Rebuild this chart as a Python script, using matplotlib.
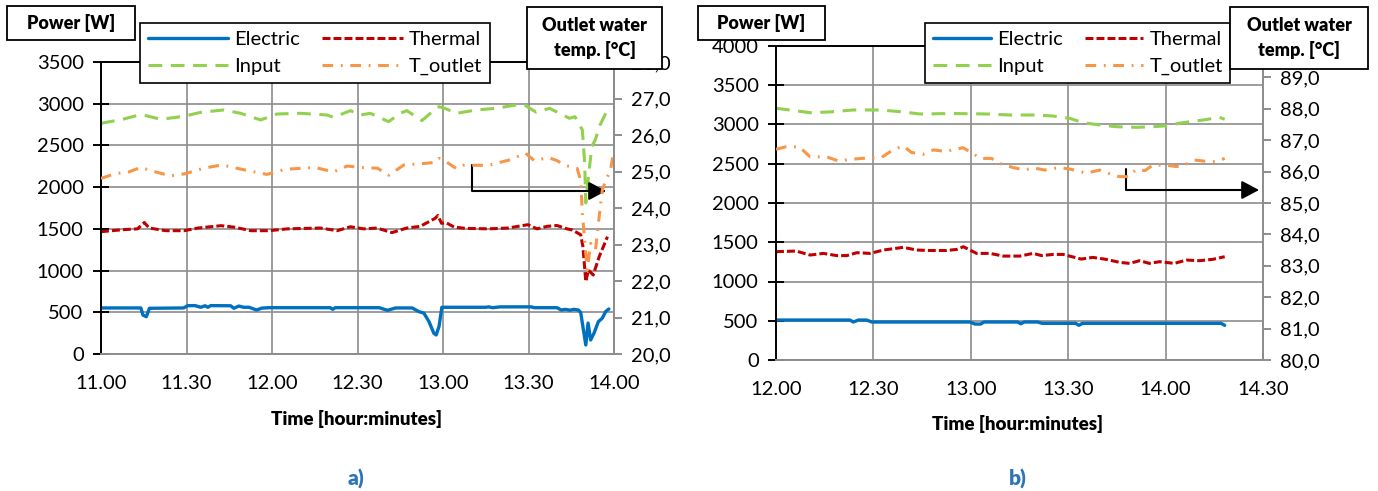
import matplotlib
matplotlib.use("Agg")
import matplotlib.pyplot as plt
from matplotlib.patches import Rectangle

plt.rcParams['font.family'] = ['Lato', 'DejaVu Sans']

# ---- panel a) : 11.00 - 14.00 (minutes after 11.00) ----
el_a_t = [0, 14, 14.7, 15.9, 17, 29, 30.4, 33, 35, 36.5, 37.5, 38.5, 45.5, 46.6, 48.4, 50, 52, 54.6, 56.4, 59,
          80.4, 81.3, 82.2, 97.6, 100.5, 103.4, 109.2, 111.6, 113.3, 115.1, 116.8, 117.6, 118.6, 119.6,
          135, 136, 137.5, 140, 151, 152, 160, 161.5, 163, 164.5, 166, 167.5, 168.3, 170.1, 170.9, 171.8,
          173, 174.5, 175.9, 177.1, 178.2]
el_a = [552, 552, 467, 447, 548, 552, 579, 580, 560, 578, 560, 580, 578, 548, 575, 560, 560, 527, 550, 555,
        555, 536, 555, 555, 524, 552, 552, 507, 490, 387, 248, 228, 330, 560,
        560, 565, 555, 565, 565, 555, 555, 527, 535, 525, 535, 527, 500, 108, 371, 168,
        251, 387, 430, 510, 540]

th_a_t = [0, 7.6, 12.8, 15.2, 16.9, 22.7, 29.2, 34, 42.1, 46.8, 52.6, 59, 65.4, 77, 82.9, 87.5, 92.2, 96.8,
          102.1, 107.3, 112, 117.2, 118.2, 119.5, 121, 124, 128, 136, 142.8, 149.8, 153, 156.5, 160, 163.5,
          165.4, 168.3, 169.1, 170.1, 171, 172.7, 174.8, 177.7]
th_a = [1466, 1490, 1500, 1576, 1510, 1478, 1478, 1510, 1538, 1520, 1478, 1478, 1500, 1510, 1478, 1525, 1500, 1510,
        1455, 1510, 1530, 1625, 1660, 1566, 1575, 1520, 1506, 1500, 1510, 1550, 1500, 1530, 1540, 1500,
        1486, 1430, 1286, 867, 1007, 947, 1166, 1406]

in_a_t = [0, 7.6, 13.4, 16, 21, 29.2, 35, 43.1, 49, 56, 61.8, 70, 79.3, 81.6, 87.5, 91, 94.5, 100.9, 105,
          107.3, 112.6, 117.2, 118.6, 121, 124.7, 131.7, 138.7, 145.7, 148.6, 152.7, 157.4, 162, 164.4, 166.3,
          168.9, 169.7, 170.1, 171.3, 172.2, 173.4, 175.1, 177.1]
in_a = [2765, 2813, 2865, 2855, 2813, 2850, 2897, 2925, 2885, 2805, 2877, 2885, 2865, 2837, 2917, 2865, 2885, 2785, 2885,
        2917, 2797, 2933, 2965, 2940, 2885, 2925, 2945, 2985, 2985, 2898, 2945, 2865, 2825, 2845,
        2685, 2290, 1810, 2205, 2485, 2565, 2745, 2885]

to_a_t = [0, 3.4, 6, 9.8, 13.9, 19.1, 24.4, 29.6, 36, 42.4, 50.6, 58.2, 64.6, 75.1, 81.5, 86.4, 91.1, 97, 101,
          106.3, 112, 117.2, 118.6, 121, 124.7, 127, 136, 143, 149, 152, 157, 160, 162.8, 167.1, 168.3, 168.9,
          170.1, 170.6, 171.8, 173.5, 174.8, 175.9, 177.1, 178.8, 179.9]
to_a = [24.81, 24.9, 24.95, 24.99, 25.11, 24.99, 24.88, 24.94, 25.09, 25.18, 25.04, 24.92, 25.06, 25.11, 24.99, 25.15,
        25.11, 25.09, 24.9, 25.18, 25.21, 25.25, 25.36, 25.27, 25.08, 25.17, 25.17, 25.31, 25.5, 25.3, 25.38, 25.3,
        25.17, 25.08, 24.76, 23.85, 22.76, 22.3, 23.03, 22.85, 23.76, 24.49, 24.76, 25.04, 25.58]

# ---- panel b) : 12.00 - 14.30 (minutes after 12.00) ----
el_b_t = [0, 22.8, 23.8, 25.4, 27.9, 29.5, 59.7, 61.3, 63, 64.1, 74.4, 75.4, 76.5, 80.5, 82, 92.3, 93.3, 94.4,
          137.1, 138.2]
el_b = [509, 509, 484, 509, 509, 484, 484, 458, 458, 484, 484, 462, 484, 484, 467, 467, 442, 467, 467, 442]

th_b_t = [0, 6.2, 10.5, 14.6, 18.7, 21.8, 24.9, 29, 33.1, 39.2, 43.3, 46.9, 52.6, 55.7, 57.7, 61.8, 65.9, 70,
          75.1, 79.2, 81.8, 85.3, 88.4, 94, 97.6, 101.7, 105.8, 108.9, 112, 115, 118.1, 122.7, 126.4, 130.4,
          134.5, 138.2]
th_b = [1380, 1388, 1337, 1358, 1330, 1330, 1367, 1358, 1401, 1435, 1401, 1395, 1395, 1409, 1443, 1358, 1358, 1324,
        1324, 1358, 1330, 1345, 1345, 1286, 1307, 1282, 1244, 1231, 1265, 1231, 1252, 1231, 1273, 1265,
        1282, 1316]

in_b_t = [0, 4.3, 10.5, 16.6, 23.8, 32, 39.2, 44.3, 54.6, 64.8, 72, 80.2, 85.3, 90.5, 94.6, 99.7, 104.8, 111,
          116.1, 119.2, 125.3, 131.5, 136.6, 138.2]
in_b = [3206, 3185, 3150, 3160, 3185, 3185, 3160, 3134, 3140, 3134, 3121, 3121, 3108, 3078, 3023, 2994, 2972, 2964,
        2972, 2980, 3023, 3057, 3091, 3066]

to_b_t = [0, 3, 7.2, 10.5, 15.6, 19.2, 22.8, 29, 32.5, 36, 39.2, 41.7, 45.3, 48.5, 52.6, 54.1, 57.6, 60.7, 62.8,
          66.4, 68.9, 73, 76.6, 79.2, 82.8, 87.4, 91, 95.6, 99.7, 103.8, 105.8, 108.4, 111, 113.6, 116.1, 119.7,
          123.3, 126.4, 128.9, 133, 135.5, 138.2]
to_b = [86.71, 86.79, 86.79, 86.47, 86.47, 86.34, 86.39, 86.44, 86.45, 86.69, 86.82, 86.61, 86.55, 86.69, 86.64,
        86.69, 86.76, 86.58, 86.42, 86.42, 86.26, 86.13, 86.05, 86.12, 86.05, 86.13, 86.07, 85.95, 86.05, 85.89,
        85.84, 85.84, 86.07, 86.03, 86.21, 86.21, 86.16, 86.24, 86.37, 86.32, 86.32, 86.42]

xlabels_a = ["11.00", "11.30", "12.00", "12.30", "13.00", "13.30", "14.00"]
xlabels_b = ["12.00", "12.30", "13.00", "13.30", "14.00", "14.30"]

W, H = 1378, 491
BLUE, RED, GREEN, ORANGE = "#0070C0", "#C00000", "#92D050", "#F79646"
GRID = "#8c8c8c"
BOLD = 'heavy'


def fx(px):
    return px / W


def fy(py):
    return 1 - py / H


def make_panel(fig, rect, xlabels, pmax, tlim, hidden_top, data, legend_pos, legend_style, power_box,
               outlet_box, arrow, xlab_pos, tag):
    ax = fig.add_axes(rect)
    ax2 = ax.twinx()
    el_t, el, th_t, th, in_t, inp, to_t, to = data

    l1, = ax.plot(el_t, el, color=BLUE, lw=2.4, solid_capstyle='round')
    l2, = ax.plot(th_t, th, color=RED, lw=2.2, dashes=(2.6, 1.0))
    l3, = ax.plot(in_t, inp, color=GREEN, lw=2.2, dashes=(4.5, 2.8))
    l4, = ax2.plot(to_t, to, color=ORANGE, lw=2.2, dashes=(3.5, 2.5, 0.6, 2.5))

    n = len(xlabels)
    ax.set_xlim(0, 30 * (n - 1))
    ax.set_xticks([30 * i for i in range(n)])
    ax.set_xticklabels(xlabels)
    ax.set_ylim(0, pmax)
    ax.set_yticks(range(0, pmax + 1, 500))
    temps = list(range(tlim[0], tlim[1] + 1))
    ax2.set_ylim(*tlim)
    ax2.set_yticks(temps)
    # the top label sits under the "Outlet water" box in the original
    ax2.set_yticklabels([("" if (hidden_top and v == tlim[1]) else f"{v},0") for v in temps])

    ax.grid(True, color=GRID, lw=1.2)
    ax.set_axisbelow(True)
    for s in ['left', 'top']:
        ax.spines[s].set_color('black')
        ax.spines[s].set_linewidth(1.4)
    ax.spines['bottom'].set_color(GRID)
    ax.spines['bottom'].set_linewidth(1.4)
    ax.spines['right'].set_visible(False)
    for s in ['left', 'top', 'bottom']:
        ax2.spines[s].set_visible(False)
    ax2.spines['right'].set_color(GRID)
    ax2.spines['right'].set_linewidth(1.4)

    ax.tick_params(axis='y', direction='inout', length=11, width=1.4, color='black', labelsize=14.5, pad=7)
    ax.tick_params(axis='x', length=0, labelsize=14.5, pad=15)
    ax2.tick_params(axis='y', direction='out', length=6, width=1.4, color=GRID, labelsize=14.5, pad=6)

    fig.text(fx(xlab_pos[0]), fy(xlab_pos[1]), "Time [hour:minutes]", ha='center', va='center',
             fontsize=13.5, fontweight=BOLD)
    fig.text(fx(xlab_pos[0]), fy(479), tag, ha='center', va='center', fontsize=15,
             fontweight=BOLD, color='#2E75B6')

    hl, cs = legend_style
    leg = fig.legend([l1, l3, l2, l4], ["Electric", "Input", "Thermal", "T_outlet"], ncol=2,
                     loc='upper left', bbox_to_anchor=(fx(legend_pos[0]), fy(legend_pos[1])),
                     bbox_transform=fig.transFigure, fontsize=14.5, handlelength=hl,
                     borderpad=0.38, borderaxespad=0, labelspacing=0.5, handletextpad=0.3, columnspacing=cs,
                     fancybox=False, edgecolor='black', framealpha=1)
    leg.get_frame().set_linewidth(1.2)

    for (bx0, by0, bx1, by1), txt in [(power_box, "Power [W]"), (outlet_box, "Outlet water\ntemp. [°C]")]:
        fig.add_artist(Rectangle((fx(bx0), fy(by1)), fx(bx1 - bx0), (by1 - by0) / H,
                                 transform=fig.transFigure, fc='white', ec='black', lw=1.3, zorder=10))
        fig.text(fx((bx0 + bx1) / 2), fy((by0 + by1) / 2), txt, ha='center', va='center',
                 fontsize=13, fontweight=BOLD, linespacing=1.5, zorder=11)

    (ax0, ay0), (ax1_, ay1) = arrow
    ax.annotate('', xy=(ax1_, H - ay1), xycoords='figure pixels',
                xytext=(ax0, H - ay0), textcoords='figure pixels',
                arrowprops=dict(arrowstyle='-|>,head_length=0.75,head_width=0.4',
                                connectionstyle='angle,angleA=90,angleB=0,rad=0',
                                color='black', lw=1.5, mutation_scale=14, shrinkA=0, shrinkB=0))
    return ax, ax2


fig = plt.figure(figsize=(W / 100, H / 100), dpi=100)

make_panel(fig, [fx(101), fy(354), fx(614 - 101), (354 - 62) / H], xlabels_a, 3500, (20, 28), False,
           (el_a_t, el_a, th_a_t, th_a, in_a_t, in_a, to_a_t, to_a),
           (140, 23), (4.0, 1.1), (7, 6, 135, 40), (527, 7, 662, 69),
           ((472, 165), (606, 191)), (356, 419), "a)")

make_panel(fig, [fx(776), fy(360), fx(1263 - 776), (360 - 46) / H], xlabels_b, 4000, (80, 90), True,
           (el_b_t, el_b, th_b_t, th_b, in_b_t, in_b, to_b_t, to_b),
           (925, 23), (2.9, 1.1), (698, 6, 825, 40), (1230, 7, 1368, 69),
           ((1126, 169), (1259, 190)), (1018, 424), "b)")

fig.savefig("out.png", dpi=100)
